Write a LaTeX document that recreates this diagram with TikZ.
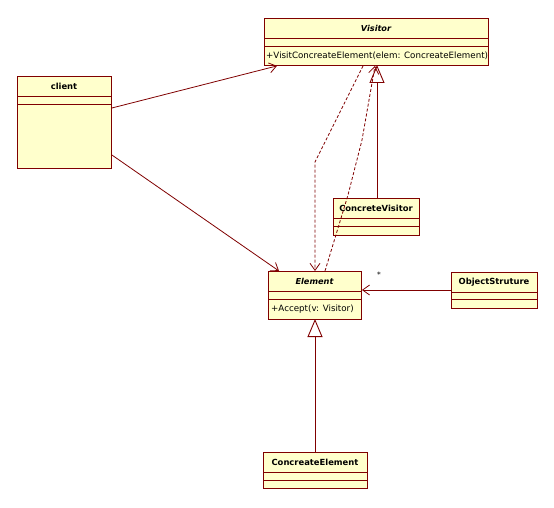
\documentclass[tikz,border=0pt]{standalone}
\usepackage{fontspec}
\setmainfont{DejaVu Sans}
\usetikzlibrary{arrows.meta,calc}
\definecolor{umlline}{RGB}{128,0,0}
\definecolor{umlfill}{RGB}{255,255,204}
\begin{document}
\begin{tikzpicture}[x=1pt,y=-1pt,
  cls/.style={draw=umlline, fill=umlfill, anchor=north west, inner sep=0pt, line width=0.9pt},
  sepline/.style={draw=umlline, line width=0.9pt},
  ttl/.style={font=\fontsize{8.4}{9}\selectfont\bfseries, inner sep=0pt},
  ttli/.style={font=\fontsize{8.2}{9}\selectfont\bfseries\itshape, inner sep=0pt},
  opn/.style={font=\fontsize{8.7}{9}\selectfont, inner sep=0pt, anchor=west},
  assoc/.style={draw=umlline, line width=0.8pt, -{Straight Barb[length=7pt,width=10pt,line width=0.8pt]}},
  depend/.style={draw=umlline, line width=0.8pt, dash pattern=on 3pt off 2pt, -{Straight Barb[length=7pt,width=10pt,line width=0.8pt]}},
  inherit/.style={draw=umlline, line width=0.9pt, -{Triangle[length=18pt,width=15pt,fill=white,line width=0.9pt]}}
]
\useasboundingbox[fill=white] (0,0) rectangle (554,508);

% Visitor
\node[cls, minimum width=224pt, minimum height=47pt] (visitor) at (264,18) {};
\draw[sepline] ([yshift=-20pt]visitor.north west) -- ([yshift=-20pt]visitor.north east);
\draw[sepline] ([yshift=-28pt]visitor.north west) -- ([yshift=-28pt]visitor.north east);
\node[ttli] (visitorT) at (376,28.5) {Visitor};
\node[opn] (visitorO) at (266,56) {+VisitConcreateElement(elem: ConcreateElement)};

% client
\node[cls, minimum width=94pt, minimum height=92pt] (client) at (17,76) {};
\draw[sepline] ([yshift=-20pt]client.north west) -- ([yshift=-20pt]client.north east);
\draw[sepline] ([yshift=-28pt]client.north west) -- ([yshift=-28pt]client.north east);
\node[ttl] (clientT) at (64,86) {client};

% ConcreteVisitor
\node[cls, minimum width=86pt, minimum height=37pt] (cvisitor) at (333,198) {};
\draw[sepline] ([yshift=-20pt]cvisitor.north west) -- ([yshift=-20pt]cvisitor.north east);
\draw[sepline] ([yshift=-28pt]cvisitor.north west) -- ([yshift=-28pt]cvisitor.north east);
\node[ttl] (cvisitorT) at (376,208) {ConcreteVisitor};

% Element
\node[cls, minimum width=93pt, minimum height=48pt] (element) at (268,271) {};
\draw[sepline] ([yshift=-20pt]element.north west) -- ([yshift=-20pt]element.north east);
\draw[sepline] ([yshift=-28pt]element.north west) -- ([yshift=-28pt]element.north east);
\node[ttli] (elementT) at (314.5,281) {Element};
\node[opn] (elementO) at (271,309) {+Accept(v: Visitor)};

% ObjectStruture
\node[cls, minimum width=86pt, minimum height=36pt] (objs) at (451,272) {};
\draw[sepline] ([yshift=-20pt]objs.north west) -- ([yshift=-20pt]objs.north east);
\draw[sepline] ([yshift=-27pt]objs.north west) -- ([yshift=-27pt]objs.north east);
\node[ttl] (objsT) at (494,282) {ObjectStruture};

% ConcreateElement
\node[cls, minimum width=104pt, minimum height=36pt] (celem) at (263,452) {};
\draw[sepline] ([yshift=-20pt]celem.north west) -- ([yshift=-20pt]celem.north east);
\draw[sepline] ([yshift=-28pt]celem.north west) -- ([yshift=-28pt]celem.north east);
\node[ttl] (celemT) at (315,462) {ConcreateElement};

% connectors
\draw[assoc] ($(client.north east)+(0,32)$) -- ($(visitor.south west)+(13,0)$);
\draw[assoc] ($(client.north east)+(0,79)$) -- ($(element.north west)+(11,0)$);
\draw[inherit] (cvisitor.north -| 377,0) -- (377,65);
\draw[inherit] (celem.north -| 315,0) -- (315,319);
\draw[depend] ($(visitor.south west)+(99,0)$) -- (315,162) -- ($(element.north west)+(47,0)$);
\draw[depend] ($(element.north west)+(57,0)$) -- (348,195) -- (362,140) -- ($(visitor.south west)+(111,0)$);
\draw[assoc] ($(objs.north west)+(0,18)$) -- ($(element.north east)+(0,19)$);
\node[font=\fontsize{7.5}{8}\selectfont, inner sep=0pt] (mult) at (379,275) {*};
\end{tikzpicture}
\end{document}
